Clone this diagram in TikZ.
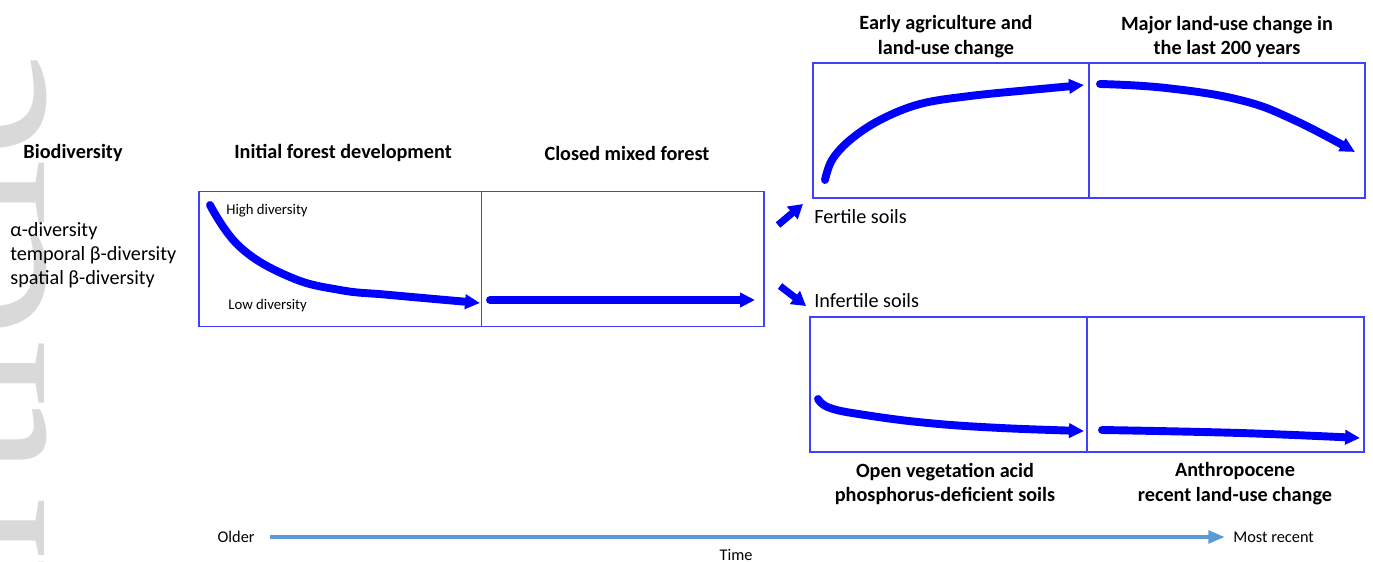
\documentclass[tikz,border=0pt]{standalone}
\usepackage{fontspec}
\setmainfont{Carlito}
\newfontfamily\wmfont{Liberation Serif}
\usepackage{xcolor}
\usepackage{tikz}
\usetikzlibrary{positioning, arrows.meta, calc}

\definecolor{panelblue}{RGB}{64,64,255}
\definecolor{timeblue}{RGB}{91,155,213}
\definecolor{wmgray}{RGB}{217,217,217}

\begin{document}
\begin{tikzpicture}[
    node distance=0pt,
    panel/.style={rectangle, draw=panelblue, line width=0.6pt, minimum width=#1, minimum height=2.7cm, inner sep=0pt, outer sep=0pt},
    txt/.style={inner sep=0pt, font=\fontsize{11.5}{14.2}\selectfont},
    hdr/.style={txt, align=center, font=\fontsize{11.5}{14.2}\selectfont\bfseries},
    small/.style={inner sep=0pt, font=\fontsize{8.4}{10}\selectfont},
    timetxt/.style={inner sep=0pt, font=\fontsize{9.3}{11}\selectfont},
    trend/.style={blue, line width=4.5pt, line cap=round, -{Triangle[length=8.5pt, width=8pt]}},
    fork/.style={blue, line width=4pt, -{Triangle[length=8pt, width=9pt]}},
    timearr/.style={timeblue, line width=2.6pt, -{Triangle[length=9.5pt, width=7pt]}},
    watermark/.style={inner sep=0pt, text=wmgray, font=\wmfont\fontsize{142}{142}\selectfont},
]
\useasboundingbox (0,0) rectangle (27.46,-11.24);

% watermark at the left edge
\begin{scope}
\clip (0,0) rectangle (27.46,-11.24);
\node[watermark, rotate=90, anchor=base east] (wm) at (0.89,-0.95) {Article};
\end{scope}

% panels
\node[panel=5.65cm] (init) at (6.805,-5.18) {};
\node[panel=5.65cm, right=of init] (closed) {};
\node[panel=5.52cm] (agri) at (19.02,-2.61) {};
\node[panel=5.52cm, right=of agri] (major) {};
\node[panel=5.54cm] (open) at (18.97,-7.69) {};
\node[panel=5.54cm, right=of open] (anthro) {};

% headings
\node[hdr] (biohdr) at (1.46,-3.06) {Biodiversity};
\node[hdr] (inithdr) at (6.86,-3.06) {Initial forest development};
\node[hdr] (closedhdr) at (12.54,-3.06) {Closed mixed forest};
\node[hdr] (agrihdr) at (18.92,-0.74) {Early agriculture and\\land-use change};
\node[hdr] (majorhdr) at (24.54,-0.74) {Major land-use change in\\the last 200 years};
\node[hdr] (openhdr) at (18.9,-9.68) {Open vegetation acid\\phosphorus-deficient soils};
\node[hdr] (anthrohdr) at (24.7,-9.68) {Anthropocene\\recent land-use change};

\node[txt, anchor=west, align=left, font=\fontsize{11.5}{13.7}\selectfont] (divlist) at (0.2,-5.1) {α-diversity\\temporal β-diversity\\spatial β-diversity};

\node[small, anchor=west] (high) at (4.52,-4.22) {High diversity};
\node[small, anchor=west] (low) at (4.56,-6.12) {Low diversity};

% soil branches
\node[txt, anchor=west] (fertile) at (16.28,-4.34) {Fertile soils};
\node[txt, anchor=west] (infertile) at (16.28,-6.02) {Infertile soils};
\draw[fork] ($(fertile.west)+(-0.72,-0.16)$) -- ($(fertile.west)+(-0.22,0.26)$);
\draw[fork] ($(infertile.west)+(-0.68,0.3)$) -- ($(infertile.west)+(-0.16,-0.1)$);

% diversity trends
\draw[trend] plot[smooth, tension=0.7] coordinates {(4.2,-4.1) (4.8,-4.94) (5.8,-5.54) (6.8,-5.8) (7.8,-5.9) (9.6,-6.06)};
\draw[trend] (9.8,-6.0) -- (15.1,-6.0);
\draw[trend] plot[smooth, tension=0.6] coordinates {(16.5,-3.6) (16.64,-3.2) (17.0,-2.8) (17.6,-2.4) (18.4,-2.08) (19.4,-1.92) (20.6,-1.8) (21.68,-1.7)};
\draw[trend] plot[smooth, tension=0.7] coordinates {(22.0,-1.68) (23.32,-1.76) (24.8,-2.0) (25.88,-2.4) (27.1,-3.04)};
\draw[trend] plot[smooth, tension=0.7] coordinates {(16.36,-7.98) (16.6,-8.16) (17.3,-8.3) (18.56,-8.46) (20.02,-8.56) (21.68,-8.62)};
\draw[trend] plot[smooth, tension=0.7] coordinates {(22.04,-8.6) (24.8,-8.66) (27.2,-8.76)};

% time axis
\node[timetxt, anchor=east] (older) at (5.1,-10.74) {Older};
\node[timetxt, anchor=west] (recent) at (24.66,-10.74) {Most recent};
\node[timetxt] (time) at (14.72,-11.1) {Time};
\draw[timearr, shorten <=0.3cm, shorten >=0.16cm] (older.east) -- (recent.west);

\end{tikzpicture}
\end{document}
